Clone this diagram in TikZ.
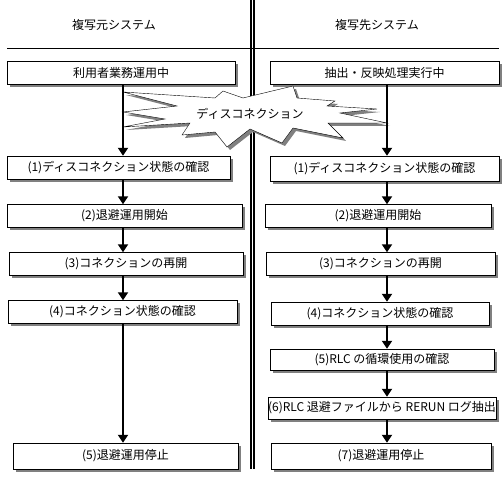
\documentclass[tikz,border=0pt]{standalone}
\usepackage{fontspec}
\setmainfont{Noto Sans CJK JP}
\usetikzlibrary{arrows.meta,shadows}

\begin{document}
\begin{tikzpicture}[x=1pt, y=-1pt,
  font=\fontsize{12}{14}\selectfont,
  bx/.style={draw, fill=white, inner sep=0pt, minimum height=23pt,
             minimum width=228pt,
             drop shadow={shadow xshift=3pt, shadow yshift=-3pt,
                          fill=black!50, opacity=1}},
  a/.style={line width=2.4pt, -{Triangle[width=10pt,length=8pt]}},
  sep/.style={line width=1.6pt}
]
\useasboundingbox (0,0) rectangle (504,481);

% ================= headers and separators =================
\node (hsrc) at (114,25) {複写元システム};
\node (hdst) at (377,25) {複写先システム};
\draw (7,48) -- (499,48);
\draw[sep] (250.7,0) -- (250.7,469);
\draw[sep] (253.7,0) -- (253.7,469);

% arrow columns
\coordinate (lx) at (123,0);
\coordinate (rx) at (387,0);

% ================= source system =================
\node[bx] (l0) at (121,72.5) {利用者業務運用中};
\node[bx, minimum width=223pt] (l1) at (118.5,167.5)
  {(1)ディスコネクション状態の確認};
\node[bx, minimum width=235pt] (l2) at (124.5,216) {(2)退避運用開始};
\node[bx, minimum width=234pt] (l3) at (126,264) {(3)コネクションの再開};
\node[bx, minimum width=229pt] (l4) at (122.5,312) {(4)コネクション状態の確認};
\node[bx, minimum width=225pt, minimum height=26pt] (l5) at (125.5,456)
  {(5)退避運用停止};

% ================= target system =================
\node[bx, minimum width=229pt] (r0) at (384.5,72.5) {抽出・反映処理実行中};
\node[bx, minimum width=229pt, minimum height=25pt] (r1) at (384.5,168.5)
  {(1)ディスコネクション状態の確認};
\node[bx, minimum width=226pt] (r2) at (378,216) {(2)退避運用開始};
\node[bx, minimum width=229pt] (r3) at (380.5,264) {(3)コネクションの再開};
\node[bx, minimum width=218pt] (r4) at (380,313.5) {(4)コネクション状態の確認};
\node[bx, minimum width=224pt, minimum height=21pt] (r5) at (382,359.5)
  {(5)RLC の循環使用の確認};
\node[bx, minimum width=222pt, minimum height=22pt] (r6) at (382,408)
  {(6)RLC 退避ファイルから RERUN ログ抽出};
\node[bx, minimum width=220pt, minimum height=26pt] (r7) at (381,456)
  {(7)退避運用停止};

% ================= disconnection burst =================
\filldraw[fill=white, drop shadow={shadow xshift=3pt, shadow yshift=-3pt,
                                  fill=black!50, opacity=1}]
  (123,92) -- (215,98) -- (223,91) -- (243,98) -- (293,86) -- (297,98)
  -- (335,101) -- (327,106) -- (377,109) -- (340,113) -- (387,123)
  -- (328,123) -- (343,138) -- (293,128) -- (282,143) -- (250,129)
  -- (227,147) -- (215,132) -- (182,135) -- (190,123) -- (123,127)
  -- (165,119) -- (123,112) -- (177,106) -- cycle;
\node (disc) at (250,114) {ディスコネクション};

% ================= flow =================
\draw[a] (l0.south -| lx) -- (l1.north -| lx);
\draw[a] (l1.south -| lx) -- (l2.north -| lx);
\draw[a] (l2.south -| lx) -- (l3.north -| lx);
\draw[a] (l3.south -| lx) -- (l4.north -| lx);
\draw[a] (l4.south -| lx) -- (l5.north -| lx);

\draw[a] (r0.south -| rx) -- (r1.north -| rx);
\draw[a] (r1.south -| rx) -- (r2.north -| rx);
\draw[a] (r2.south -| rx) -- (r3.north -| rx);
\draw[a] (r3.south -| rx) -- (r4.north -| rx);
\draw[a] (r4.south -| rx) -- (r5.north -| rx);
\draw[a] (r5.south -| rx) -- (r6.north -| rx);
\draw[a] (r6.south -| rx) -- (r7.north -| rx);
\end{tikzpicture}
\end{document}
